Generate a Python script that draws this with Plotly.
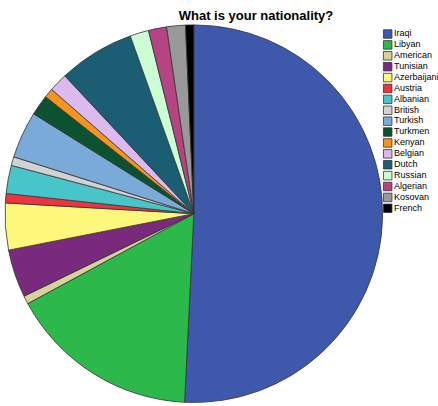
import plotly.graph_objects as go

# Data (percent of respondents)
nationalities = ["Iraqi", "Libyan", "American", "Tunisian", "Azerbaijani", "Austria",
                 "Albanian", "British", "Turkish", "Turkmen", "Kenyan", "Belgian",
                 "Dutch", "Russian", "Algerian", "Kosovan", "French"]
percent = [50.7, 16.3, 0.7, 4.1, 4.0, 0.8, 2.4, 0.75, 4.0, 1.75, 0.8, 1.6,
           6.5, 1.6, 1.55, 1.6, 0.7]

colors = ["#3e59ac", "#2db84b", "#d7d19c", "#7a2a7c", "#fdf87b", "#ee3340",
          "#48c5c8", "#d2d2d2", "#7aaad7", "#0c5230", "#f7941e", "#dcb9ef",
          "#1b5e74", "#ccfdd3", "#b64483", "#999999", "#000000"]

FONT = "Liberation Sans, Arial, sans-serif"
W, H = 438, 406

fig = go.Figure()

fig.add_trace(go.Pie(
    labels=nationalities,
    values=percent,
    sort=False,
    direction="clockwise",
    rotation=0,
    textinfo="none",
    marker=dict(colors=colors, line=dict(color="#333333", width=0.8)),
    domain=dict(x=[5.0 / W, 382.6 / W], y=[3.5 / H, 381.1 / H]),
    showlegend=False,
    hoverinfo="label+percent",
))

# Legend drawn as a marker column on hidden axes
fig.add_trace(go.Scatter(
    x=[4.7] * len(nationalities),
    y=list(range(len(nationalities))),
    mode="markers+text",
    marker=dict(symbol="square", size=8.5, color=colors,
                line=dict(color="#333333", width=0.8)),
    text=nationalities,
    textposition="middle right",
    textfont=dict(family=FONT, size=9, color="#000000"),
    cliponaxis=False,
    showlegend=False,
    hoverinfo="text",
))

fig.update_layout(
    width=W, height=H,
    margin=dict(l=0, r=0, t=0, b=0),
    paper_bgcolor="white",
    plot_bgcolor="rgba(0,0,0,0)",
    font=dict(family=FONT),
    title=dict(text="<b>What is your nationality?</b>",
               x=256 / W, xanchor="center", y=1 - 15.5 / H, yanchor="middle",
               font=dict(family=FONT, size=13, color="#000000")),
    xaxis=dict(domain=[383 / W, 1.0], range=[0, 55], visible=False, fixedrange=True),
    yaxis=dict(domain=[1 - 208.3 / H, 1 - 34 / H], range=[16, 0], visible=False, fixedrange=True),
)

fig.write_html("out.html",
               config={"displayModeBar": False},
               post_script="document.body.style.margin='0';document.body.style.overflow='hidden';")
